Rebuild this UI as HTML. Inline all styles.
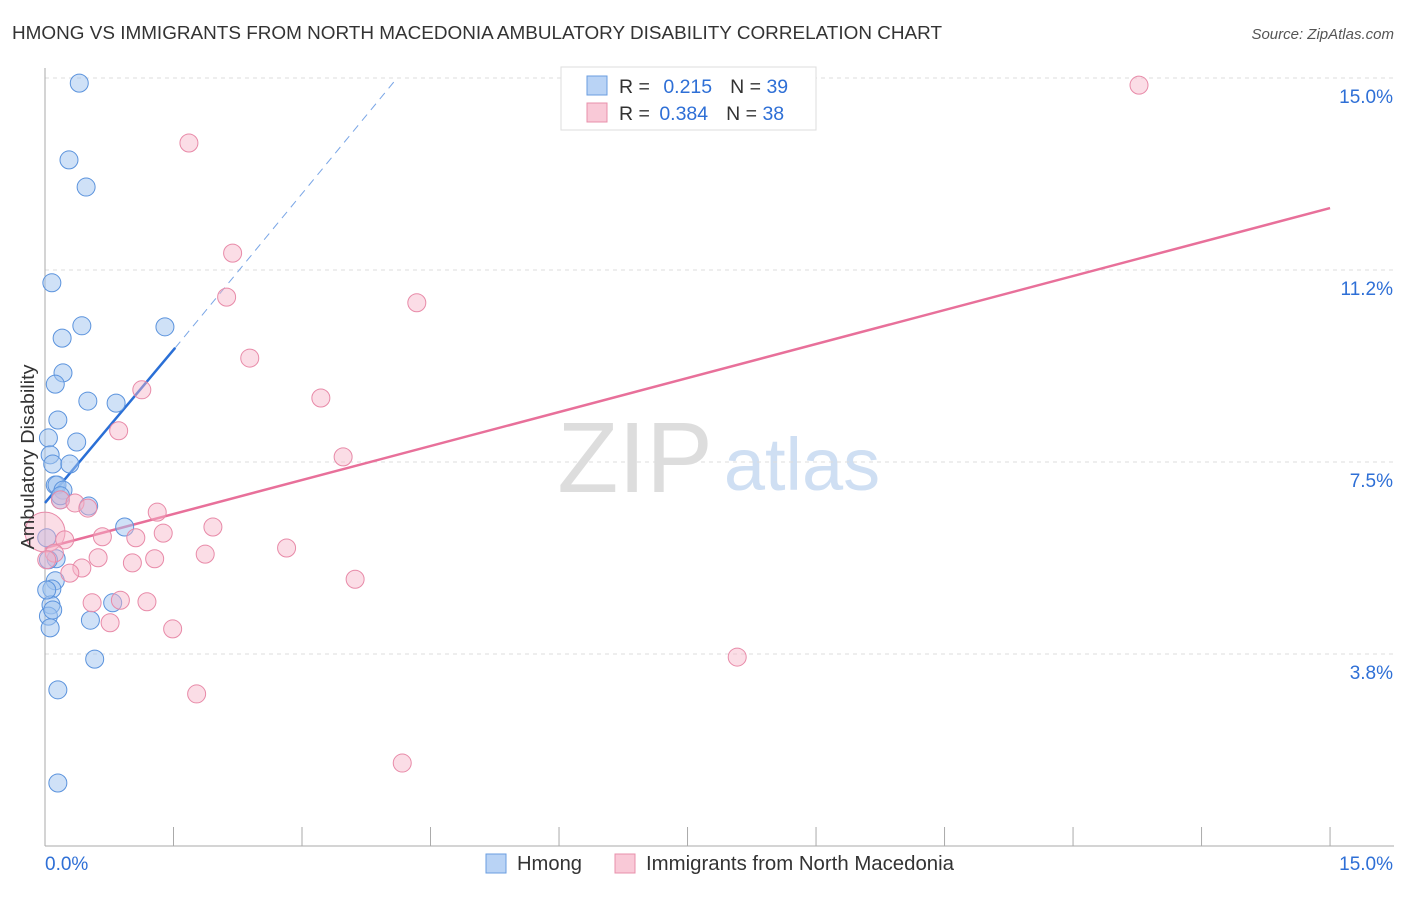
<!DOCTYPE html>
<html><head><meta charset="utf-8"><style>
body{margin:0;background:#fff;font-family:"Liberation Sans",sans-serif;}
svg text{font-family:"Liberation Sans",sans-serif;}
</style></head><body>
<svg id="chart" width="1406" height="892" xmlns="http://www.w3.org/2000/svg">
<text x="12" y="39" font-size="18" fill="#333" textLength="930" lengthAdjust="spacingAndGlyphs">HMONG VS IMMIGRANTS FROM NORTH MACEDONIA AMBULATORY DISABILITY CORRELATION CHART</text>
<text x="1394" y="39" font-size="15" fill="#555" font-style="italic" text-anchor="end">Source: ZipAtlas.com</text>
<g>
<text x="635" y="492" font-size="100" fill="#ddd" text-anchor="middle" font-family="Liberation Serif">ZIP</text>
<text x="802" y="490" font-size="74" fill="#cfdff3" text-anchor="middle">atlas</text>
</g>
<g id="grid"></g><g id="axes"></g><g id="lines"></g><g id="pts"></g>
<text transform="translate(34,457) rotate(-90)" font-size="18" fill="#333" text-anchor="middle" textLength="185" lengthAdjust="spacingAndGlyphs">Ambulatory Disability</text>
<g>
<rect x="561" y="67" width="255" height="63" fill="#fff" stroke="#ddd"/>
<rect x="587" y="76" width="20" height="19" fill="#b9d3f5" stroke="#6a9ee0"/>
<rect x="587" y="103" width="20" height="19" fill="#f9c9d7" stroke="#e890ab"/>
<text x="619" y="93" font-size="19.5" fill="#333">R = <tspan fill="#2e6fd6" dx="8">0.215</tspan><tspan dx="18">N = </tspan><tspan fill="#2e6fd6">39</tspan></text>
<text x="619" y="120" font-size="19.5" fill="#333">R = <tspan fill="#2e6fd6" dx="4">0.384</tspan><tspan dx="18">N = </tspan><tspan fill="#2e6fd6">38</tspan></text>
</g>
<g>
<rect x="486" y="854" width="20" height="19" fill="#b9d3f5" stroke="#6a9ee0"/>
<text x="517" y="870" font-size="20" fill="#333" textLength="65" lengthAdjust="spacingAndGlyphs">Hmong</text>
<rect x="615" y="854" width="20" height="19" fill="#f9c9d7" stroke="#e890ab"/>
<text x="646" y="870" font-size="20" fill="#333" textLength="308" lengthAdjust="spacingAndGlyphs">Immigrants from North Macedonia</text>
</g>
</svg>
<script>
const yTicks=[3.75,7.5,11.25,15];
const yTickLabels=["3.8%","7.5%","11.2%","15.0%"];
const xTickLabels=["0.0%","15.0%"];
const hmongX=[0.40,0.28,0.48,0.08,0.43,1.40,0.20,0.21,0.12,0.15,0.50,0.83,0.04,0.37,0.06,0.09,0.29,0.12,0.14,0.21,0.18,0.51,0.93,0.02,0.13,0.04,0.12,0.08,0.07,0.04,0.06,0.53,0.79,0.58,0.15,0.15,0.02,0.09,0.18];
const hmongY=[14.90,13.40,12.87,11.00,10.16,10.14,9.92,9.24,9.02,8.32,8.69,8.65,7.97,7.89,7.64,7.46,7.46,7.05,7.05,6.95,6.76,6.64,6.23,6.02,5.61,5.59,5.18,5.02,4.71,4.49,4.26,4.41,4.75,3.65,3.05,1.23,5.00,4.61,6.84];
const macX=[12.77,1.68,2.19,2.12,4.34,2.39,1.13,3.22,0.86,3.48,0.18,0.35,0.50,1.31,1.96,1.38,0.00,0.67,0.23,1.06,0.11,0.62,1.28,1.87,2.82,1.02,0.43,0.29,3.62,0.55,0.88,1.19,0.76,1.49,8.08,1.77,4.17,0.02];
const macY=[14.86,13.73,11.58,10.72,10.61,9.53,8.91,8.75,8.11,7.60,6.76,6.70,6.60,6.52,6.23,6.11,6.13,6.04,5.98,6.02,5.72,5.63,5.61,5.70,5.82,5.53,5.43,5.33,5.21,4.75,4.80,4.77,4.36,4.24,3.69,2.97,1.62,5.59];
const macBig=[16];
const hmongFit=[0,6.70,1.52,9.73,4.11,15];
const macFit=[0,5.82,15,12.46];
const NS="http://www.w3.org/2000/svg";
const X=v=>45+v*85.67, Y=v=>846-v*51.2;
function mk(t,a,p){const e=document.createElementNS(NS,t);for(const k in a)e.setAttribute(k,a[k]);document.getElementById(p).appendChild(e);return e;}
yTicks.forEach((t,i)=>{
 const l=mk('line',{x1:45,x2:1394,y1:Y(t),y2:Y(t),stroke:'#ddd','stroke-dasharray':'4,4'},'grid');
 
 
 const tx=mk('text',{x:1393,y:Y(t)+25,'font-size':19,fill:'#2e6fd6','text-anchor':'end'},'axes');
 tx.textContent=yTickLabels[i];
 
 
});
const ax=mk('line',{x1:45,x2:45,y1:68,y2:846,stroke:'#aaa'},'axes');


const bx=mk('line',{x1:45,x2:1394,y1:846,y2:846,stroke:'#aaa'},'axes');


for(let i=0;i<=10;i++){
 const t=mk('line',{x1:X(i*1.5),x2:X(i*1.5),y1:827,y2:846,stroke:'#aaa'},'axes');
 
 
}
const xl0=mk('text',{x:45,y:870,'font-size':19,fill:'#2e6fd6'},'axes');xl0.textContent=xTickLabels[0];


const xl1=mk('text',{x:1393,y:870,'font-size':19,fill:'#2e6fd6','text-anchor':'end'},'axes');xl1.textContent=xTickLabels[1];


hmongX.forEach((x,i)=>{
 const c=mk('circle',{cx:X(x),cy:Y(hmongY[i]),r:9,fill:'rgba(160,195,240,0.5)',stroke:'#5b93dd','stroke-width':1},'pts');
 
 
});
macX.forEach((x,i)=>{
 const c=mk('circle',{cx:X(x),cy:Y(macY[i]),r:macBig.includes(i)?20:9,fill:'rgba(246,180,200,0.45)',stroke:'#e88aa8','stroke-width':1},'pts');
 
 
});
const hl=mk('line',{x1:X(hmongFit[0]),y1:Y(hmongFit[1]),x2:X(hmongFit[2]),y2:Y(hmongFit[3]),stroke:'#2a6fd6','stroke-width':2.5},'lines');


const hd=mk('line',{x1:X(hmongFit[2]),y1:Y(hmongFit[3]),x2:X(hmongFit[4]),y2:Y(hmongFit[5]),stroke:'#7aa6e6','stroke-width':1,'stroke-dasharray':'8,6'},'lines');


const ml=mk('line',{x1:X(macFit[0]),y1:Y(macFit[1]),x2:X(macFit[2]),y2:Y(macFit[3]),stroke:'#e8709a','stroke-width':2.5},'lines');


</script>
</body></html>
